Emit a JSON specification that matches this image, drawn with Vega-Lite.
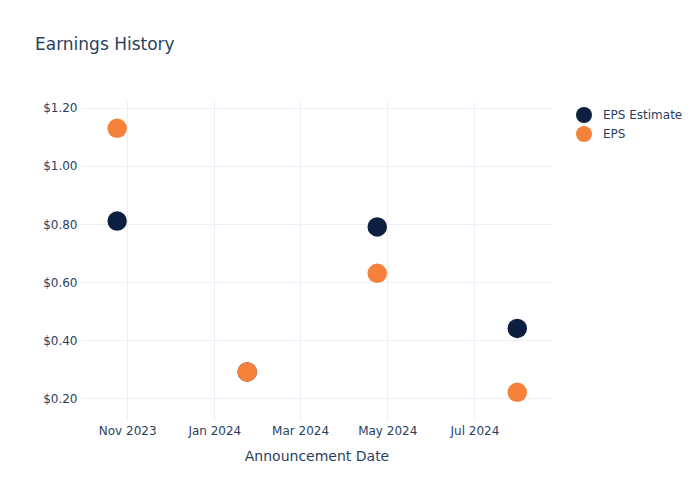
{
  "$schema": "https://vega.github.io/schema/vega-lite/v6.json",
  "width": 473,
  "height": 320,
  "autosize": {"type": "none"},
  "padding": {"left": 80, "top": 101, "right": 147, "bottom": 79},
  "background": "white",
  "title": {
    "text": "Earnings History",
    "anchor": "start",
    "frame": "group",
    "dx": -45,
    "offset": 47,
    "fontSize": 17,
    "fontWeight": "normal",
    "font": "DejaVu Sans",
    "color": "#2a3f5f"
  },
  "data": {
    "values": [
      {"date": "2023-10-25", "series": "EPS Estimate", "value": 0.81},
      {"date": "2024-01-24", "series": "EPS Estimate", "value": 0.29},
      {"date": "2024-04-24", "series": "EPS Estimate", "value": 0.79},
      {"date": "2024-07-31", "series": "EPS Estimate", "value": 0.44},
      {"date": "2023-10-25", "series": "EPS", "value": 1.13},
      {"date": "2024-01-24", "series": "EPS", "value": 0.29},
      {"date": "2024-04-24", "series": "EPS", "value": 0.63},
      {"date": "2024-07-31", "series": "EPS", "value": 0.22}
    ]
  },
  "mark": {"type": "point", "shape": "circle", "filled": true, "opacity": 1, "size": 380},
  "encoding": {
    "x": {
      "field": "date",
      "type": "temporal",
      "title": "Announcement Date",
      "scale": {
        "type": "utc",
        "domain": [
          {"year": 2023, "month": 9, "date": 29, "utc": true},
          {"year": 2024, "month": 8, "date": 25, "utc": true}
        ]
      },
      "axis": {
        "labelExpr": "utcFormat(datum.value, '%b %Y')",
        "tickCount": {"interval": "month", "step": 2},
        "grid": true,
        "gridColor": "#ebf0f8",
        "domain": false,
        "ticks": false,
        "labelPadding": 4,
        "labelFont": "DejaVu Sans",
        "labelFontSize": 12,
        "labelColor": "#2a3f5f",
        "titleFont": "DejaVu Sans",
        "titleFontSize": 14,
        "titleFontWeight": "normal",
        "titleColor": "#2a3f5f",
        "titlePadding": 13
      }
    },
    "y": {
      "field": "value",
      "type": "quantitative",
      "title": null,
      "scale": {"domain": [0.121, 1.224], "nice": false, "zero": false},
      "axis": {
        "values": [0.2, 0.4, 0.6, 0.8, 1.0, 1.2],
        "format": "$.2f",
        "grid": true,
        "gridColor": "#ebf0f8",
        "domain": false,
        "ticks": false,
        "labelPadding": 3,
        "labelFont": "DejaVu Sans",
        "labelFontSize": 12,
        "labelColor": "#2a3f5f"
      }
    },
    "color": {
      "field": "series",
      "type": "nominal",
      "scale": {"domain": ["EPS Estimate", "EPS"], "range": ["#0c1f41", "#f6813a"]},
      "legend": {
        "title": null,
        "orient": "none",
        "legendX": 496,
        "legendY": 6,
        "symbolType": "circle",
        "symbolSize": 256,
        "symbolStrokeWidth": 0,
        "labelFont": "DejaVu Sans",
        "labelFontSize": 12,
        "labelColor": "#2a3f5f",
        "rowPadding": 3,
        "labelOffset": 11
      }
    }
  },
  "config": {"view": {"stroke": null}}
}
